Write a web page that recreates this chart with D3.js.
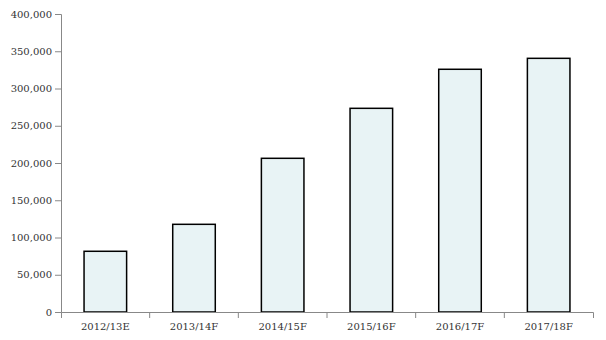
<!DOCTYPE html>
<html>
<head>
<meta charset="utf-8">
<script src="https://cdn.jsdelivr.net/npm/d3@7"></script>
<style>
  body { margin: 0; background: #fff; }
  svg text { font-family: "DejaVu Serif", serif; font-size: 10px; fill: #333; }
  .axis path, .axis line { stroke: #888; }
</style>
</head>
<body>
<svg width="606" height="340"></svg>
<script>
const years = ['2012/13E','2013/14F','2014/15F','2015/16F','2016/17F','2017/18F'];
const values = [81500, 117700, 206300, 273400, 325800, 340500];
const yTicks = [0, 50000, 100000, 150000, 200000, 250000, 300000, 350000, 400000];

const svg = d3.select('svg');
const width = +svg.attr('width');
const height = +svg.attr('height');
const margin = {top: 14, right: 13, bottom: 28, left: 61};
const innerW = width - margin.left - margin.right;
const innerH = height - margin.top - margin.bottom;

const g = svg.append('g').attr('transform', `translate(${margin.left},${margin.top})`);

const x = d3.scaleBand().domain(years).range([0, innerW]).paddingInner(0.52).paddingOuter(0.26);
const y = d3.scaleLinear().domain([0, 400000]).range([innerH, 0]);

// bars
g.selectAll('rect.bar')
  .data(values)
  .enter().append('rect')
  .attr('class', 'bar')
  .attr('x', (d, i) => x(years[i]))
  .attr('y', d => y(d))
  .attr('width', x.bandwidth())
  .attr('height', d => y(0) - y(d))
  .attr('fill', '#e8f3f5')
  .attr('stroke', '#000')
  .attr('stroke-width', 1.5);

// y axis
g.append('g')
  .attr('class', 'axis')
  .call(d3.axisLeft(y).tickValues(yTicks).tickFormat(d3.format(',')).tickSizeOuter(6));

// x axis: labels centred, ticks at band boundaries
const xAxis = g.append('g')
  .attr('class', 'axis')
  .attr('transform', `translate(0,${innerH})`)
  .call(d3.axisBottom(x).tickSizeInner(0).tickSizeOuter(6).tickPadding(11));

const step = x.step();
const bounds = d3.range(1, years.length).map(i => x(years[i]) - x.paddingInner() * step / 2);
xAxis.selectAll('line.bound')
  .data(bounds)
  .enter().append('line')
  .attr('class', 'bound')
  .attr('x1', d => d).attr('x2', d => d)
  .attr('y1', 0).attr('y2', 6);

svg.selectAll('.axis text').style('fill', '#333');
</script>
</body>
</html>
